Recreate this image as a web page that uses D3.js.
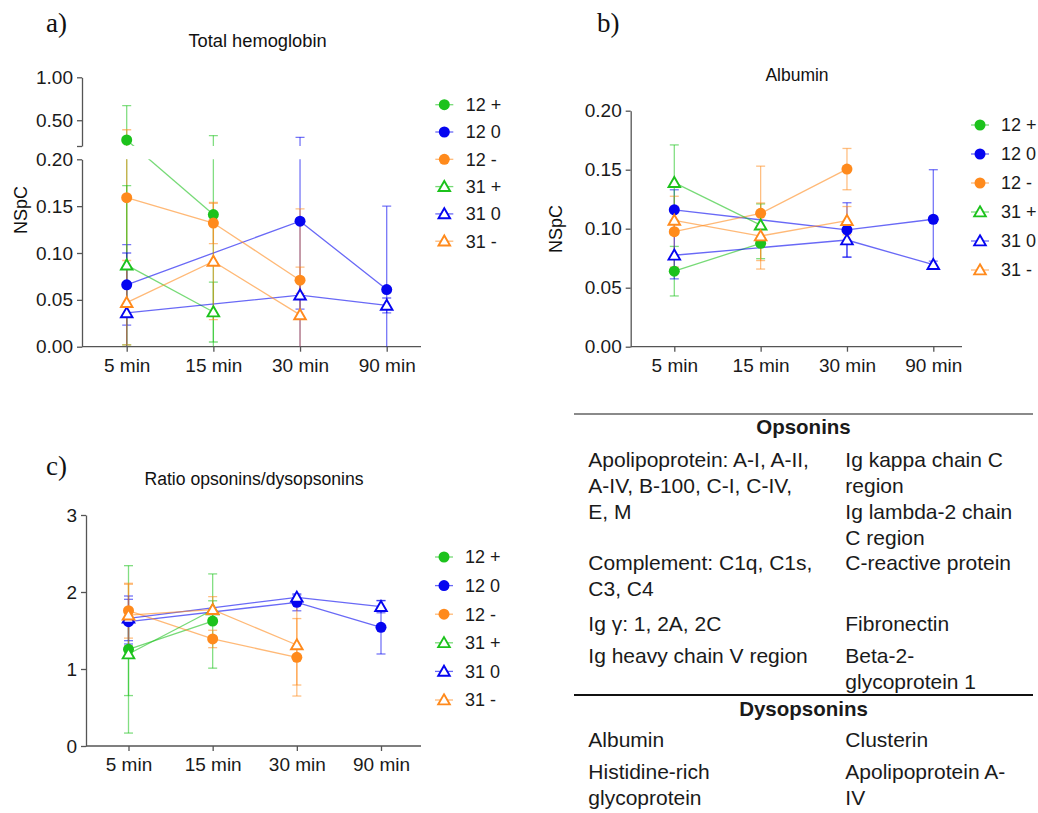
<!DOCTYPE html>
<html><head><meta charset="utf-8">
<script src="https://cdn.jsdelivr.net/npm/d3@7"></script>
<style>
body{margin:0;background:#fff;}
svg{display:block;font-family:"Liberation Sans",Arial,sans-serif;}
</style>
</head><body>
<svg id="chart" width="1038" height="813"></svg>
<script>
// ---------- data ----------
const times = ["5 min", "15 min", "30 min", "90 min"];
const seriesNames = ["12 +", "12 0", "12 -", "31 +", "31 0", "31 -"];
const seriesColors = ["#1cc21c", "#0505f0", "#ff8a1c", "#1cc21c", "#0505f0", "#ff8a1c"];
const seriesShapes = ["circle", "circle", "circle", "triangle", "triangle", "triangle"];

// a) Total hemoglobin (NSpC), rows follow seriesNames
const hemoMean = [
  [0.270, 0.141, null, null],
  [0.066, null, 0.134, 0.061],
  [0.159, 0.132, 0.071, null],
  [0.087, 0.037, null, null],
  [0.036, null, 0.055, 0.044],
  [0.047, 0.091, 0.034, null]
];
const hemoSD = [
  [0.400, 0.180, null, null],
  [0.043, null, 0.167, 0.089],
  [0.230, 0.022, 0.014, null],
  [0.085, 0.032, null, null],
  [0.064, null, 0.015, 0.008],
  [0.045, 0.062, 0.113, null]
];
const hemoTicksLow = [0, 0.05, 0.10, 0.15, 0.20];
const hemoTicksHigh = [0.20, 0.50, 1.00];

// b) Albumin (NSpC)
const albMean = [
  [0.0640, 0.0876, null, null],
  [0.1160, null, 0.0990, 0.1080],
  [0.0975, 0.1130, 0.1505, null],
  [0.1390, 0.1030, null, null],
  [0.0775, null, 0.0904, 0.0695],
  [0.1070, 0.0938, 0.1068, null]
];
const albSD = [
  [0.021, 0.013, null, null],
  [0.017, null, 0.023, 0.042],
  [0.030, 0.040, 0.0175, null],
  [0.032, 0.018, null, null],
  [0.020, null, 0.0146, 0.003],
  [0.012, 0.028, 0.012, null]
];
const albTicks = [0, 0.05, 0.10, 0.15, 0.20];

// c) Ratio opsonins/dysopsonins
const ratioMean = [
  [1.255, 1.623, null, null],
  [1.615, null, 1.866, 1.541],
  [1.757, 1.390, 1.152, null],
  [1.195, 1.766, null, null],
  [1.658, null, 1.931, 1.810],
  [1.700, 1.770, 1.312, null]
];
const ratioSD = [
  [1.087, 0.612, null, null],
  [0.290, null, 0.110, 0.346],
  [0.356, 0.113, 0.503, null],
  [0.540, 0.120, null, null],
  [0.290, null, 0.030, 0.080],
  [0.400, 0.170, 0.520, null]
];
const ratioTicks = [0, 1, 2, 3];

// table
const opsoninRows = [
  [["Apolipoprotein: A-I, A-II,", "A-IV, B-100, C-I, C-IV,", "E, M"],
   ["Ig kappa chain C", "region", "Ig lambda-2 chain", "C region"]],
  [["Complement: C1q, C1s,", "C3, C4"], ["C-reactive protein"]],
  [["Ig γ: 1, 2A, 2C"], ["Fibronectin"]],
  [["Ig heavy chain V region"], ["Beta-2-", "glycoprotein 1"]]
];
const dysopsoninRows = [
  [["Albumin"], ["Clusterin"]],
  [["Histidine-rich", "glycoprotein"], ["Apolipoprotein A-", "IV"]]
];

// ---------- drawing ----------
const svg = d3.select("#chart");
const defs = svg.append("defs");
const AXIS = "#555";
const TICKFONT = 19;

function styleAxis(sel) {
  sel.selectAll(".domain").attr("stroke", AXIS).attr("stroke-width", 1.3);
  sel.selectAll(".tick line").attr("stroke", AXIS).attr("stroke-width", 1.3);
  sel.selectAll(".tick text").attr("fill", "#1a1a1a").style("font-size", TICKFONT + "px")
     .style("font-family", '"Liberation Sans",Arial,sans-serif');
}

function drawXAxis(x, yPix, x0, x1) {
  const g = svg.append("g").attr("transform", `translate(0,${yPix})`)
    .call(d3.axisBottom(x).tickSize(5).tickPadding(7));
  g.select(".domain").attr("d", `M${x0},0H${x1}`);
  styleAxis(g);
}

function drawData(opt) {
  const {x, y, mean, sd, clipId, yMin} = opt;
  const layer = svg.append("g").attr("clip-path", clipId ? `url(#${clipId})` : null);
  const marks = svg.append("g");
  seriesNames.forEach((s, i) => {
    const col = seriesColors[i];
    const pts = times.map((t, j) => ({t, v: mean[i][j], e: sd[i][j]})).filter(d => d.v != null);
    pts.forEach(d => {
      if (d.e == null) return;
      const cx = x(d.t);
      const lo = d.v - d.e, hi = d.v + d.e;
      const loC = Math.max(yMin, lo);
      layer.append("line").attr("x1", cx).attr("x2", cx)
        .attr("y1", y(loC)).attr("y2", y(hi))
        .attr("stroke", col).attr("stroke-opacity", 0.55).attr("stroke-width", 1.3);
      layer.append("line").attr("x1", cx - 4.5).attr("x2", cx + 4.5)
        .attr("y1", y(hi)).attr("y2", y(hi))
        .attr("stroke", col).attr("stroke-opacity", 0.55).attr("stroke-width", 1.3);
      if (lo >= yMin) {
        layer.append("line").attr("x1", cx - 4.5).attr("x2", cx + 4.5)
          .attr("y1", y(lo)).attr("y2", y(lo))
          .attr("stroke", col).attr("stroke-opacity", 0.55).attr("stroke-width", 1.3);
      }
    });
    layer.append("path").datum(pts)
      .attr("d", d3.line().x(d => x(d.t)).y(d => y(d.v)))
      .attr("fill", "none").attr("stroke", col)
      .attr("stroke-opacity", 0.6).attr("stroke-width", 1.3);
  });
  seriesNames.forEach((s, i) => {
    const pts = times.map((t, j) => ({t, v: mean[i][j]})).filter(d => d.v != null);
    pts.forEach(d => drawMarker(marks, x(d.t), y(d.v), i));
  });
}

function drawMarker(g, cx, cy, i) {
  const col = seriesColors[i];
  if (seriesShapes[i] === "circle") {
    g.append("circle").attr("cx", cx).attr("cy", cy).attr("r", 5.5).attr("fill", col);
  } else {
    g.append("path").attr("d", d3.symbol(d3.symbolTriangle, 58)())
      .attr("transform", `translate(${cx},${cy + 1})`)
      .attr("fill", "#fff").attr("stroke", col).attr("stroke-width", 1.9);
  }
}

function drawLegend(mx, tx, y0, dy) {
  const g = svg.append("g");
  seriesNames.forEach((s, i) => {
    const yy = y0 + i * dy;
    g.append("line").attr("x1", mx - 9).attr("x2", mx + 9).attr("y1", yy).attr("y2", yy)
      .attr("stroke", seriesColors[i]).attr("stroke-opacity", 0.6).attr("stroke-width", 1.3);
    drawMarker(g, mx, yy, i);
    g.append("text").attr("x", tx).attr("y", yy).attr("dy", "0.35em")
      .style("font-size", "18px").attr("fill", "#1a1a1a").text(s);
  });
}

function panelLabel(txt, x, y) {
  svg.append("text").attr("x", x).attr("y", y).text(txt)
    .style("font-family", '"Liberation Serif","Times New Roman",serif')
    .style("font-size", "27px").attr("fill", "#111");
}
function title(txt, x, y, size) {
  svg.append("text").attr("x", x).attr("y", y).attr("text-anchor", "middle")
    .style("font-size", size + "px").attr("fill", "#111").text(txt);
}
function yLabel(txt, x, y) {
  svg.append("text").attr("transform", `translate(${x},${y}) rotate(-90)`)
    .attr("text-anchor", "middle").style("font-size", "18px").attr("fill", "#111").text(txt);
}

// ----- Panel a -----
{
  const x = d3.scalePoint().domain(times).range([126.7, 386.7]);
  const yLow = d3.scaleLinear().domain([0, 0.2]).range([346.7, 159.3]);
  const yHigh = d3.scaleLinear().domain([0.2, 1.0]).range([146, 77.3]);
  const y = v => (v <= 0.2 ? yLow(v) : yHigh(v));
  const cp = defs.append("clipPath").attr("id", "clipA");
  cp.append("rect").attr("x", 83).attr("y", 60).attr("width", 340).attr("height", 146 - 60);
  cp.append("rect").attr("x", 83).attr("y", 159.3).attr("width", 340).attr("height", 346.7 - 159.3);

  const gl = svg.append("g").attr("transform", "translate(82,0)")
    .call(d3.axisLeft(yLow).tickValues(hemoTicksLow).tickFormat(d3.format(".2f")).tickSize(5).tickSizeOuter(0).tickPadding(4));
  styleAxis(gl);
  const gh = svg.append("g").attr("transform", "translate(82,0)")
    .call(d3.axisLeft(yHigh).tickValues(hemoTicksHigh)
      .tickFormat(d => d === 0.2 ? "" : d3.format(".2f")(d)).tickSize(5).tickSizeOuter(0).tickPadding(4));
  styleAxis(gh);
  drawXAxis(x, 346.7, 82, 421);
  drawData({x, y, mean: hemoMean, sd: hemoSD, clipId: "clipA", yMin: 0});
  drawLegend(444.3, 465.7, 104.7, 27.3);
  panelLabel("a)", 46, 32);
  title("Total hemoglobin", 257.5, 47, 18.3);
  yLabel("NSpC", 27, 210);
}

// ----- Panel b -----
{
  const x = d3.scalePoint().domain(times).range([674.3, 933.3]);
  const y = d3.scaleLinear().domain([0, 0.2]).range([346.7, 110.7]);
  const gy = svg.append("g").attr("transform", "translate(630.7,0)")
    .call(d3.axisLeft(y).tickValues(albTicks).tickFormat(d3.format(".2f")).tickSize(5).tickSizeOuter(0).tickPadding(4));
  styleAxis(gy);
  drawXAxis(x, 346.7, 630.7, 962);
  drawData({x, y, mean: albMean, sd: albSD, clipId: null, yMin: 0});
  drawLegend(980, 1001, 125, 29);
  panelLabel("b)", 597, 32);
  title("Albumin", 797, 81, 17.5);
  yLabel("NSpC", 562, 229);
}

// ----- Panel c -----
{
  const x = d3.scalePoint().domain(times).range([128.5, 381]);
  const y = d3.scaleLinear().domain([0, 3]).range([746, 515]);
  const gy = svg.append("g").attr("transform", "translate(86,0)")
    .call(d3.axisLeft(y).tickValues(ratioTicks).tickFormat(d3.format("d")).tickSize(5).tickSizeOuter(0).tickPadding(4));
  styleAxis(gy);
  drawXAxis(x, 746, 86, 421);
  drawData({x, y, mean: ratioMean, sd: ratioSD, clipId: null, yMin: 0});
  drawLegend(444, 465, 557, 28.6);
  panelLabel("c)", 46, 475);
  title("Ratio opsonins/dysopsonins", 254, 485, 17.6);
}

// ----- Table -----
{
  const g = svg.append("g").style("font-size", "21px").attr("fill", "#1a1a1a");
  const L = 574, R = 1033, colL = 588.3, colR = 845.3, lh = 26;
  g.append("line").attr("x1", L).attr("x2", R).attr("y1", 414).attr("y2", 414)
    .attr("stroke", "#8a8a8a").attr("stroke-width", 2.2);
  g.append("text").attr("x", (L + R) / 2).attr("y", 434).attr("text-anchor", "middle")
    .style("font-weight", "bold").style("font-size", "20.5px").text("Opsonins");
  const opsTops = [466.7, 570, 631, 663.3];
  opsoninRows.forEach((row, r) => {
    row.forEach((cell, c) => {
      cell.forEach((line, k) => {
        g.append("text").attr("x", c === 0 ? colL : colR).attr("y", opsTops[r] + k * lh).text(line);
      });
    });
  });
  g.append("line").attr("x1", L).attr("x2", R).attr("y1", 695).attr("y2", 695)
    .attr("stroke", "#111").attr("stroke-width", 2.2);
  g.append("text").attr("x", (L + R) / 2).attr("y", 716).attr("text-anchor", "middle")
    .style("font-weight", "bold").style("font-size", "20.5px").text("Dysopsonins");
  const dysTops = [746.7, 779];
  dysopsoninRows.forEach((row, r) => {
    row.forEach((cell, c) => {
      cell.forEach((line, k) => {
        g.append("text").attr("x", c === 0 ? colL : colR).attr("y", dysTops[r] + k * lh).text(line);
      });
    });
  });
}
</script>
</body></html>
